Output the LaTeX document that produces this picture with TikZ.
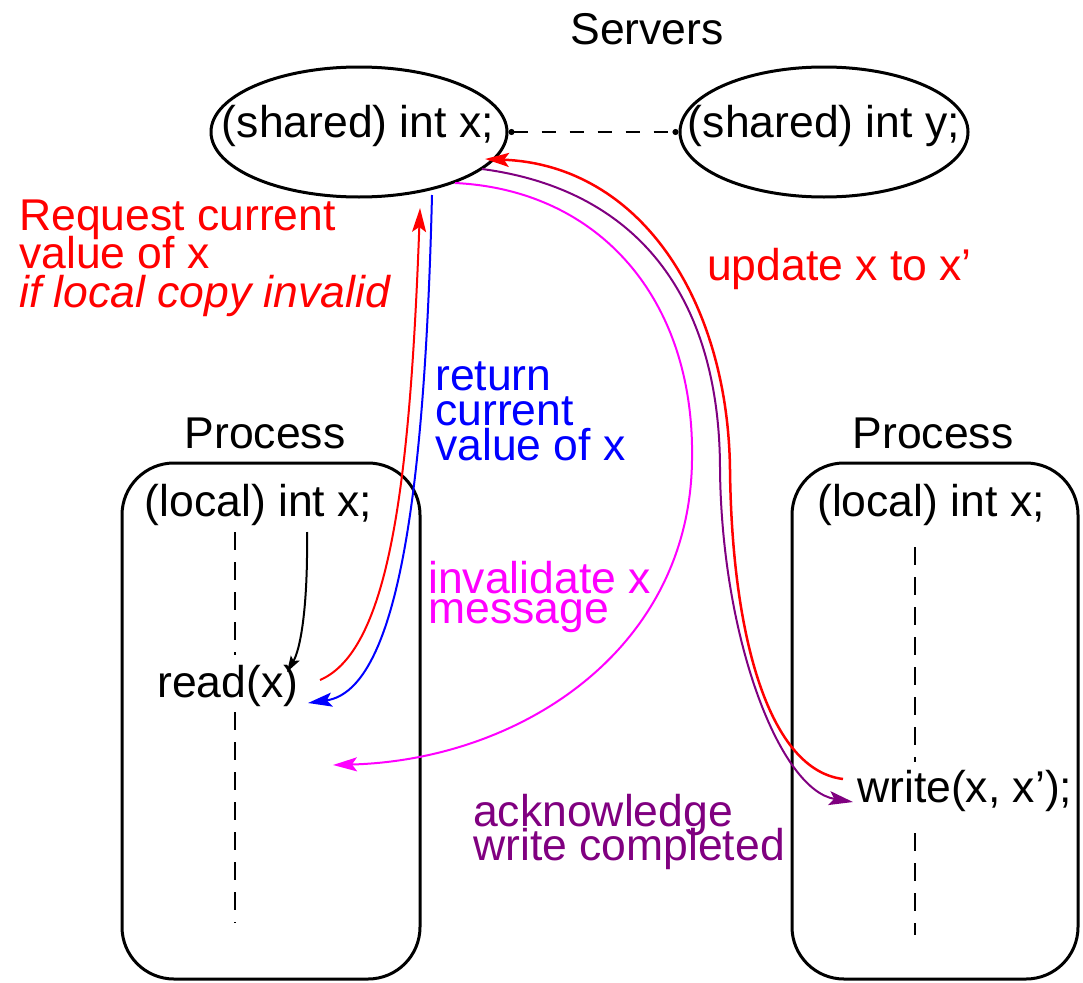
\documentclass[tikz,border=0pt]{standalone}
\usepackage{fontspec}
\setmainfont{Liberation Sans}
\usetikzlibrary{arrows.meta,shapes.geometric}
\definecolor{cred}{RGB}{255,0,0}
\definecolor{cblue}{RGB}{0,0,255}
\definecolor{cmag}{RGB}{255,0,255}
\definecolor{cpur}{RGB}{128,0,128}
\lineskiplimit=-100pt
\begin{document}
\begin{tikzpicture}[x=1pt,y=-1pt,
  txt/.style={inner sep=0pt, font=\fontsize{44.5}{38}\selectfont},
  lbl/.style={inner sep=0pt, align=left, anchor=base west},
  srv/.style={draw, ellipse, line width=3pt, inner sep=0pt},
  proc/.style={draw, rectangle, rounded corners=52pt, line width=3pt, inner sep=0pt},
  life/.style={line width=2.5pt, dash pattern=on 18pt off 12pt},
  msg/.style={line width=2pt, -{Stealth[length=24pt,width=14pt,inset=5pt]}},
]
\useasboundingbox (0,0) rectangle (1083,982);

% servers
\node[txt, anchor=base] (servers) at (647,45) {Servers};
\node[srv, minimum width=296pt, minimum height=130pt] (sx) at (359,132) {};
\node[txt, anchor=base] (sxt) at (358,137) {(shared) int x;};
\node[srv, minimum width=288pt, minimum height=130pt] (sy) at (824,132) {};
\node[txt, anchor=base] (syt) at (824,137) {(shared) int y;};
\draw[line width=2pt, dash pattern=on 14pt off 14pt, {Circle[length=6pt]}-{Circle[length=6pt]}] (sx.east) -- (sy.west);

% processes
\node[txt, anchor=base] (pl) at (265,448) {Process};
\node[txt, anchor=base] (pr) at (933,448) {Process};
\node[proc, minimum width=298pt, minimum height=516pt] (bl) at (271,721) {};
\node[proc, minimum width=286pt, minimum height=516pt] (br) at (935,721) {};
\node[txt, anchor=base] (lxl) at (258.5,516) {(local) int x;};
\node[txt, anchor=base] (lxr) at (931,516) {(local) int x;};
\node[txt, anchor=base west] (rd) at (157,697) {read(x)};
\node[txt, anchor=base west] (wr) at (857,802) {write(x, x’);};

% lifelines
\coordinate (la) at (235,532); \coordinate (lb) at (235,655);
\coordinate (lc) at (235,712); \coordinate (ld) at (235,923);
\coordinate (ra) at (915,547); \coordinate (rb) at (915,762);
\coordinate (rc) at (915,833); \coordinate (re) at (915,935);
\draw[life] (la) -- (lb);
\draw[life] (lc) -- (ld);
\draw[life] (ra) -- (rb);
\draw[life] (rc) -- (re);

% labels (anchored at the baseline of the last line)
\node[lbl, text=cred, font=\fontsize{44.5}{38.5}\selectfont] (req) at (19,307) {Request current\\value of x\\\textit{if local copy invalid}};
\node[lbl, text=cblue, font=\fontsize{44.5}{35}\selectfont] (ret) at (435,460) {return\\current\\value of x};
\node[lbl, text=cred, font=\fontsize{44.5}{38}\selectfont] (upd) at (707,280) {update x to x’};
\node[lbl, text=cmag, font=\fontsize{44.5}{30}\selectfont] (inv) at (428,623) {invalidate x\\message};
\node[lbl, text=cpur, font=\fontsize{44.5}{34}\selectfont] (ack) at (473,860) {acknowledge\\write completed};

% arrow end points
\coordinate (k0) at (307,532); \coordinate (k1) at (287,672);
\coordinate (q0) at (320,680); \coordinate (q1) at (420,208);
\coordinate (b0) at (432,195); \coordinate (b1) at (308,703);
\coordinate (m0) at (455,183); \coordinate (m1) at (333,765);
\coordinate (p0) at (482,169); \coordinate (p1) at (853,802);
\coordinate (u0) at (843,779); \coordinate (u1) at (485,159);

\draw[line width=2pt, -{Stealth[length=16pt,width=10pt,inset=3pt]}] (k0) .. controls (308,610) and (300,650) .. (k1);
\draw[msg, cred] (q0) .. controls (390,650) and (410,480) .. (q1);
\draw[msg, cblue] (b0) .. controls (425,480) and (400,690) .. (b1);
\draw[msg, cmag] (m0) .. controls (600,190) and (695,300) .. (692,460) .. controls (690,650) and (520,760) .. (m1);
\draw[msg, cpur] (p0) .. controls (640,190) and (720,300) .. (720,470) .. controls (722,640) and (780,790) .. (p1);
\draw[msg, cred, line width=2.5pt] (u0) .. controls (770,770) and (732,640) .. (730,470) .. controls (728,300) and (640,165) .. (u1);
\end{tikzpicture}
\end{document}
